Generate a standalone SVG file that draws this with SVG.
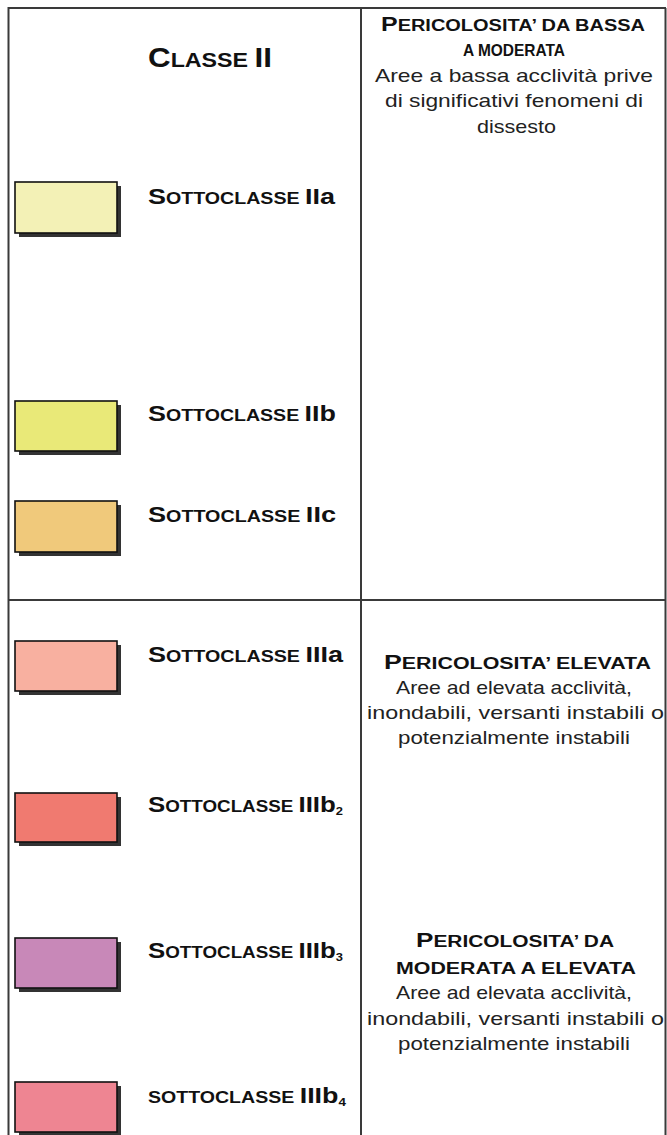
<svg xmlns="http://www.w3.org/2000/svg" width="667" height="1135" viewBox="0 0 667 1135">
<style>
.lbl{font-family:"Liberation Sans",Arial,sans-serif;font-weight:bold;fill:#111}
.big{font-size:22px}
.sm{font-size:16px}
.hd{font-family:"Liberation Sans",Arial,sans-serif;font-weight:bold;fill:#111}
.hb{font-size:20px}
.hs{font-size:16px}
.tx{font-family:"Liberation Sans",Arial,sans-serif;font-size:19px;fill:#222}
.grid{stroke:#3a3a3a;stroke-width:2;fill:none}
.sw{stroke:#111;stroke-width:1.6}
.sh{fill:#333}
</style>
<rect width="667" height="1135" fill="#ffffff"/>
<g id="table">
<line class="grid" x1="8" y1="8" x2="666" y2="8" stroke="#8a8a8a"/>
<line class="grid" x1="8.5" y1="7" x2="8.5" y2="1135"/>
<line class="grid" x1="361" y1="8" x2="361" y2="1135"/>
<line class="grid" x1="665.5" y1="8" x2="665.5" y2="1135"/>
<line class="grid" x1="8" y1="600" x2="666" y2="600"/>
</g>
<g id="classe-ii">
<text class="lbl" x="148" y="67" textLength="124" lengthAdjust="spacingAndGlyphs"><tspan font-size="27">C</tspan><tspan font-size="20">LASSE </tspan><tspan font-size="27">II</tspan></text>
</g>
<g id="sottoclasse-iia">
<rect class="sh" x="19" y="186" width="102" height="51"/>
<rect class="sw" x="15" y="182" width="102" height="51" fill="#F3F1B6"/>
<text class="lbl" x="148" y="204" textLength="187" lengthAdjust="spacingAndGlyphs"><tspan class="big">S</tspan><tspan class="sm">OTTOCLASSE </tspan><tspan class="big">IIa</tspan></text>
</g>
<g id="sottoclasse-iib">
<rect class="sh" x="19" y="405" width="102" height="50"/>
<rect class="sw" x="15" y="401" width="102" height="50" fill="#E9E978"/>
<text class="lbl" x="148" y="421" textLength="188" lengthAdjust="spacingAndGlyphs"><tspan class="big">S</tspan><tspan class="sm">OTTOCLASSE </tspan><tspan class="big">IIb</tspan></text>
</g>
<g id="sottoclasse-iic">
<rect class="sh" x="19" y="505" width="102" height="51"/>
<rect class="sw" x="15" y="501" width="102" height="51" fill="#F0C97B"/>
<text class="lbl" x="148" y="522" textLength="188" lengthAdjust="spacingAndGlyphs"><tspan class="big">S</tspan><tspan class="sm">OTTOCLASSE </tspan><tspan class="big">IIc</tspan></text>
</g>
<g id="pericolosita-bassa">
<text class="hd" x="381" y="31" textLength="264" lengthAdjust="spacingAndGlyphs"><tspan class="hb">P</tspan><tspan class="hs">ERICOLOSITA’ DA BASSA</tspan></text>
<text class="hd" font-size="16.5" x="463" y="56" textLength="102" lengthAdjust="spacingAndGlyphs">A MODERATA</text>
<text class="tx" x="375" y="82" textLength="278" lengthAdjust="spacingAndGlyphs">Aree a bassa acclività prive</text>
<text class="tx" x="385" y="107" textLength="258" lengthAdjust="spacingAndGlyphs">di significativi fenomeni di</text>
<text class="tx" x="477" y="133" textLength="79" lengthAdjust="spacingAndGlyphs">dissesto</text>
</g>
<g id="sottoclasse-iiia">
<rect class="sh" x="19" y="645" width="102" height="50"/>
<rect class="sw" x="15" y="641" width="102" height="50" fill="#F8B0A0"/>
<text class="lbl" x="148" y="662" textLength="195" lengthAdjust="spacingAndGlyphs"><tspan class="big">S</tspan><tspan class="sm">OTTOCLASSE </tspan><tspan class="big">IIIa</tspan></text>
</g>
<g id="pericolosita-elevata">
<text class="hd" x="384" y="669" textLength="267" lengthAdjust="spacingAndGlyphs"><tspan class="hb">P</tspan><tspan class="hs">ERICOLOSITA’ ELEVATA</tspan></text>
<text class="tx" x="396" y="694" textLength="236" lengthAdjust="spacingAndGlyphs">Aree ad elevata acclività,</text>
<text class="tx" x="367" y="719" textLength="297" lengthAdjust="spacingAndGlyphs">inondabili, versanti instabili o</text>
<text class="tx" x="398" y="744" textLength="232" lengthAdjust="spacingAndGlyphs">potenzialmente instabili</text>
</g>
<g id="sottoclasse-iiib2">
<rect class="sh" x="19" y="797" width="102" height="49"/>
<rect class="sw" x="15" y="793" width="102" height="49" fill="#F07A70"/>
<text class="lbl" x="148" y="812" textLength="195" lengthAdjust="spacingAndGlyphs"><tspan class="big">S</tspan><tspan class="sm">OTTOCLASSE </tspan><tspan class="big">IIIb</tspan><tspan font-size="11" dy="3">2</tspan></text>
</g>
<g id="sottoclasse-iiib3">
<rect class="sh" x="19" y="942" width="102" height="50"/>
<rect class="sw" x="15" y="938" width="102" height="50" fill="#C888B8"/>
<text class="lbl" x="148" y="958" textLength="195" lengthAdjust="spacingAndGlyphs"><tspan class="big">S</tspan><tspan class="sm">OTTOCLASSE </tspan><tspan class="big">IIIb</tspan><tspan font-size="11" dy="3">3</tspan></text>
</g>
<g id="pericolosita-moderata-elevata">
<text class="hd" x="416" y="947" textLength="198" lengthAdjust="spacingAndGlyphs"><tspan class="hb">P</tspan><tspan class="hs">ERICOLOSITA’ DA</tspan></text>
<text class="hd hs" x="396" y="974" textLength="240" lengthAdjust="spacingAndGlyphs">MODERATA A ELEVATA</text>
<text class="tx" x="396" y="999" textLength="236" lengthAdjust="spacingAndGlyphs">Aree ad elevata acclività,</text>
<text class="tx" x="367" y="1025" textLength="297" lengthAdjust="spacingAndGlyphs">inondabili, versanti instabili o</text>
<text class="tx" x="398" y="1050" textLength="232" lengthAdjust="spacingAndGlyphs">potenzialmente instabili</text>
</g>
<g id="sottoclasse-iiib4">
<rect class="sh" x="19" y="1086" width="102" height="50"/>
<rect class="sw" x="15" y="1082" width="102" height="50" fill="#EE8592"/>
<text class="lbl" x="148" y="1103" textLength="198" lengthAdjust="spacingAndGlyphs"><tspan class="sm">SOTTOCLASSE </tspan><tspan class="big">IIIb</tspan><tspan font-size="11" dy="3">4</tspan></text>
</g>
</svg>
